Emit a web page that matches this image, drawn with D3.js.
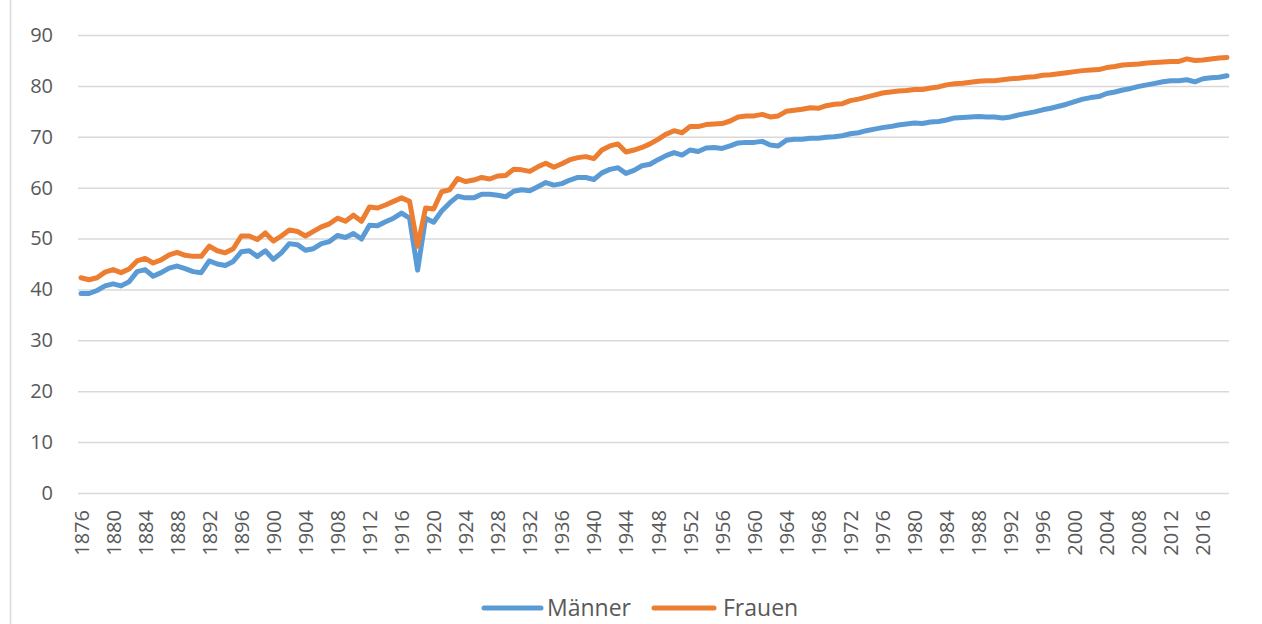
<!DOCTYPE html>
<html>
<head>
<meta charset="utf-8">
<script src="https://cdn.jsdelivr.net/npm/d3@7"></script>
<style>
  html, body { margin: 0; padding: 0; background: #fff; }
  svg { display: block; font-family: "Open Sans", "Liberation Sans", sans-serif; }
</style>
</head>
<body>
<svg id="chart" width="1262" height="624"></svg>
<script>
const firstYear = 1876;
const lastYear = 2019;
const years = d3.range(firstYear, lastYear + 1);

const maenner = [
  39.2, 39.2, 39.8, 40.7, 41.1, 40.7, 41.5, 43.5, 43.9, 42.6,
  43.3, 44.2, 44.6, 44.1, 43.5, 43.3, 45.6, 45.0, 44.7, 45.5,
  47.4, 47.6, 46.5, 47.6, 45.9, 47.2, 49.0, 48.8, 47.7, 48.0,
  49.0, 49.4, 50.6, 50.2, 51.0, 49.9, 52.6, 52.5, 53.3, 54.0,
  55.0, 54.0, 43.8, 54.0, 53.2, 55.4, 57.0, 58.3, 58.0, 58.0,
  58.7, 58.7, 58.5, 58.2, 59.3, 59.6, 59.4, 60.2, 61.0, 60.5,
  60.8, 61.5, 62.0, 62.0, 61.6, 62.9, 63.6, 63.9, 62.8, 63.4,
  64.3, 64.6, 65.5, 66.3, 66.9, 66.4, 67.4, 67.1, 67.8, 67.9,
  67.7, 68.2, 68.8, 68.9, 68.9, 69.1, 68.4, 68.2, 69.3, 69.5,
  69.5, 69.7, 69.7, 69.9, 70.0, 70.2, 70.6, 70.8, 71.2, 71.5,
  71.8, 72.0, 72.3, 72.5, 72.7, 72.6, 72.9, 73.0, 73.3, 73.7,
  73.8, 73.9, 74.0, 73.9, 73.9, 73.7, 73.9, 74.3, 74.6, 74.9,
  75.3, 75.6, 76.0, 76.4, 76.9, 77.4, 77.7, 77.9, 78.5, 78.8,
  79.2, 79.5, 79.9, 80.2, 80.5, 80.8, 81.0, 81.0, 81.2, 80.8,
  81.4, 81.6, 81.7, 82.0
];

const frauen = [
  42.3, 41.9, 42.3, 43.4, 43.9, 43.3, 44.0, 45.6, 46.1, 45.2,
  45.8, 46.8, 47.3, 46.7, 46.5, 46.5, 48.5, 47.6, 47.2, 48.0,
  50.5, 50.5, 49.8, 51.1, 49.5, 50.5, 51.7, 51.4, 50.5, 51.4,
  52.3, 52.9, 54.0, 53.4, 54.6, 53.4, 56.2, 56.0, 56.6, 57.3,
  58.0, 57.3, 48.5, 56.0, 55.8, 59.2, 59.6, 61.8, 61.2, 61.5,
  62.0, 61.7, 62.3, 62.4, 63.6, 63.5, 63.2, 64.1, 64.8, 64.0,
  64.7, 65.5, 65.9, 66.1, 65.7, 67.4, 68.2, 68.6, 67.0, 67.4,
  67.9, 68.6, 69.5, 70.5, 71.2, 70.8, 72.0, 72.0, 72.4, 72.5,
  72.6, 73.1, 73.9, 74.1, 74.1, 74.4, 73.9, 74.1, 75.0, 75.2,
  75.4, 75.7, 75.6, 76.1, 76.4, 76.5, 77.1, 77.4, 77.8, 78.2,
  78.6, 78.8, 79.0, 79.1, 79.3, 79.3, 79.6, 79.8, 80.2, 80.4,
  80.5, 80.7, 80.9, 81.0, 81.0, 81.2, 81.4, 81.5, 81.7, 81.8,
  82.1, 82.2, 82.4, 82.6, 82.8, 83.0, 83.1, 83.2, 83.6, 83.8,
  84.1, 84.2, 84.3, 84.5, 84.6, 84.7, 84.8, 84.8, 85.3, 85.0,
  85.1, 85.3, 85.5, 85.6
];

const yTicks = [0, 10, 20, 30, 40, 50, 60, 70, 80, 90];
const xTicks = [1876, 1880, 1884, 1888, 1892, 1896, 1900, 1904, 1908, 1912,
  1916, 1920, 1924, 1928, 1932, 1936, 1940, 1944, 1948, 1952, 1956, 1960,
  1964, 1968, 1972, 1976, 1980, 1984, 1988, 1992, 1996, 2000, 2004, 2008,
  2012, 2016];

const seriesNames = ["Männer", "Frauen"];
const seriesColors = ["#5B9BD5", "#ED7D31"];
const seriesValues = [maenner, frauen];

const svg = d3.select("#chart");
const textColor = "#595959";
const gridColor = "#d9d9d9";

// frame line at left
svg.append("line")
  .attr("x1", 10.5).attr("x2", 10.5).attr("y1", 0).attr("y2", 624)
  .attr("stroke", gridColor).attr("stroke-width", 1.5);

const plotLeft = 78, plotRight = 1229;
const x = d3.scaleLinear().domain([firstYear, lastYear]).range([81, 1227]);
const y = d3.scaleLinear().domain([0, 90]).range([493, 35]);

// gridlines
svg.append("g").selectAll("line").data(yTicks).join("line")
  .attr("x1", plotLeft).attr("x2", plotRight)
  .attr("y1", d => y(d) + 0.5).attr("y2", d => y(d) + 0.5)
  .attr("stroke", gridColor).attr("stroke-width", 1.5);

// y axis labels
const yAxis = d3.axisLeft(y).tickValues(yTicks).tickSize(0).tickPadding(0);
const gy = svg.append("g").attr("transform", "translate(53,0)").call(yAxis);
gy.select(".domain").remove();
gy.selectAll("text").attr("fill", textColor).style("font-size", "20px")
  .style("font-family", "'Open Sans', sans-serif");

// x axis labels
const xAxis = d3.axisBottom(x).tickValues(xTicks).tickSize(0).tickFormat(d3.format("d"));
const gx = svg.append("g").attr("transform", "translate(0,510)").call(xAxis);
gx.select(".domain").remove();
gx.selectAll("text")
  .attr("fill", textColor)
  .style("font-size", "20px")
  .style("font-family", "'Open Sans', sans-serif")
  .attr("transform", "rotate(-90)")
  .attr("text-anchor", "end")
  .attr("x", 0)
  .attr("y", 0)
  .attr("dy", "0.35em");

// lines
const line = d3.line().x((d, i) => x(years[i])).y(d => y(d));
seriesValues.forEach((vals, k) => {
  svg.append("path")
    .datum(vals)
    .attr("fill", "none")
    .attr("stroke", seriesColors[k])
    .attr("stroke-width", 5)
    .attr("stroke-linejoin", "round")
    .attr("stroke-linecap", "round")
    .attr("d", line);
});

// legend
const legendItems = [
  { name: seriesNames[0], color: seriesColors[0], x1: 484, x2: 541, tx: 547 },
  { name: seriesNames[1], color: seriesColors[1], x1: 654, x2: 714, tx: 723 }
];
const lg = svg.append("g");
legendItems.forEach(it => {
  lg.append("line")
    .attr("x1", it.x1).attr("x2", it.x2).attr("y1", 608).attr("y2", 608)
    .attr("stroke", it.color).attr("stroke-width", 5).attr("stroke-linecap", "round");
  lg.append("text")
    .attr("x", it.tx).attr("y", 608).attr("dy", "0.35em")
    .attr("fill", textColor)
    .style("font-size", "23px")
    .style("font-family", "'Open Sans', sans-serif")
    .text(it.name);
});
</script>
</body>
</html>
